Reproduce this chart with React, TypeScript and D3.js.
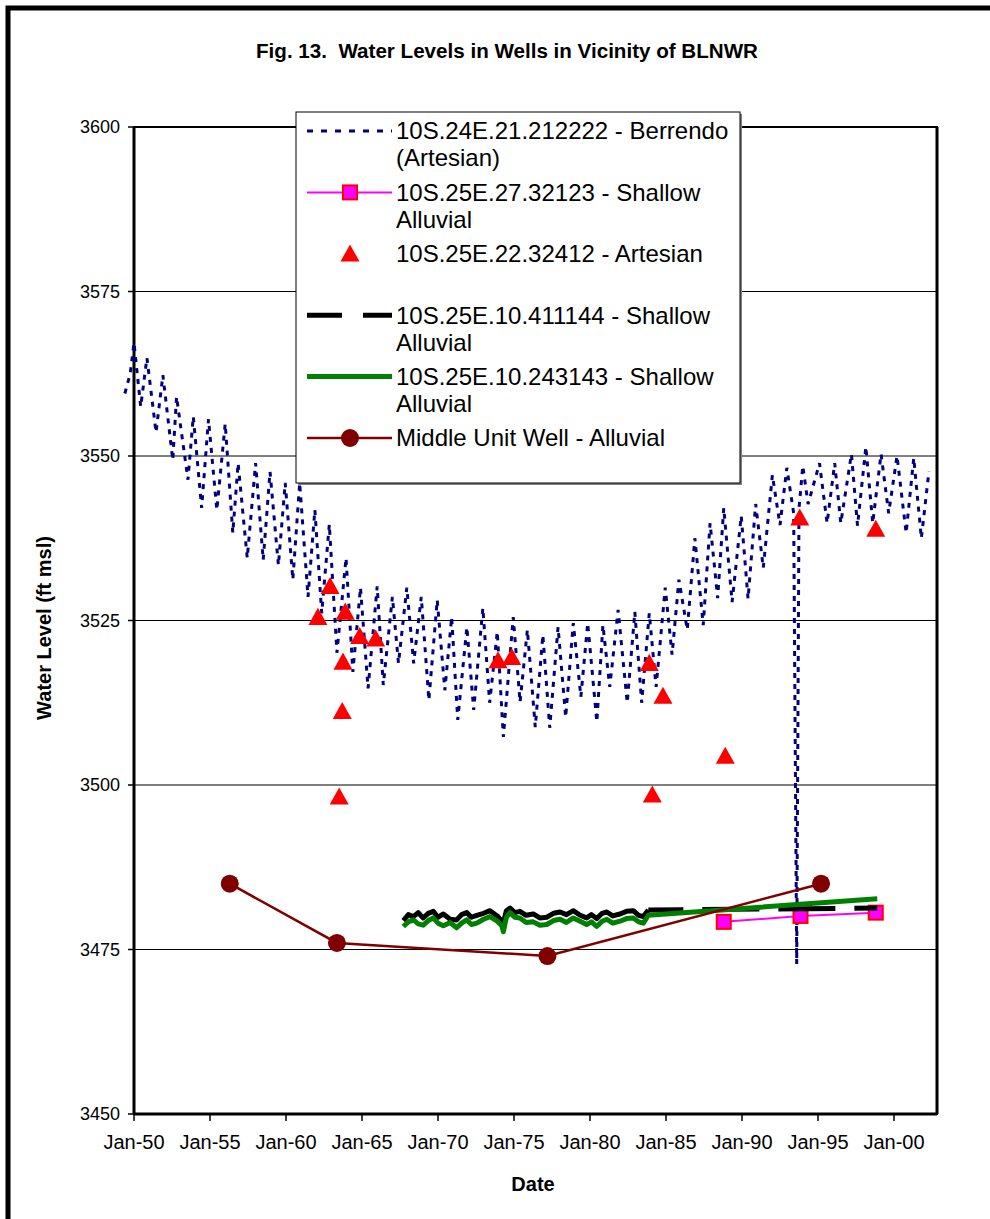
import React from 'react';
import * as d3 from 'd3';

// [decimal year, water level ft msl]
const berrendo: [number, number][] = [
  [1949.4, 3559.5], [1949.75, 3562.5], [1950.0, 3567.2], [1950.44, 3557.5], [1950.85, 3564.9],
  [1951.45, 3553.6], [1951.9, 3562.3], [1952.55, 3549.4], [1952.8, 3559], [1953.55, 3546.4],
  [1953.9, 3556], [1954.45, 3542.1], [1954.9, 3555.6], [1955.45, 3541.8], [1956.0, 3554.9],
  [1956.5, 3538.3], [1956.85, 3548.9], [1957.45, 3534.5], [1958.0, 3548.9], [1958.5, 3534.2],
  [1958.95, 3547.6], [1959.5, 3533.4], [1959.95, 3545.9], [1960.45, 3531.2], [1960.9, 3545.9],
  [1961.45, 3528.6], [1961.9, 3541.8], [1962.35, 3526.1], [1962.85, 3539.6], [1963.35, 3520.1],
  [1963.95, 3534.5], [1964.4, 3517.2], [1964.9, 3530], [1965.4, 3514.7], [1966.0, 3530.2],
  [1966.4, 3515.2], [1967.0, 3528.6], [1967.4, 3518.5], [1967.95, 3530], [1968.4, 3518.5],
  [1968.9, 3528.6], [1969.4, 3512.9], [1969.95, 3528.1], [1970.45, 3514.4], [1970.9, 3525.5],
  [1971.3, 3509.9], [1971.9, 3524], [1972.35, 3511.4], [1972.95, 3526.9], [1973.4, 3512.5],
  [1973.9, 3523.3], [1974.3, 3507.3], [1974.95, 3525.5], [1975.4, 3512.6], [1975.88, 3523.6],
  [1976.4, 3508.8], [1976.9, 3522.8], [1977.35, 3508.7], [1977.9, 3524], [1978.4, 3510.3],
  [1978.9, 3524.6], [1979.4, 3513.4], [1979.85, 3524.6], [1980.45, 3509.6], [1980.85, 3524.3],
  [1981.3, 3514.9], [1981.85, 3526.6], [1982.45, 3512.5], [1982.95, 3526.3], [1983.4, 3512.5],
  [1983.9, 3526.1], [1984.35, 3514.9], [1984.95, 3530], [1985.4, 3519.8], [1985.85, 3531.2],
  [1986.4, 3523.6], [1986.9, 3537.5], [1987.45, 3524.3], [1987.9, 3539.8], [1988.4, 3528.4],
  [1988.8, 3542.1], [1989.35, 3527.8], [1989.95, 3540.9], [1990.4, 3528.3], [1990.9, 3542.7],
  [1991.4, 3533], [1992.0, 3547.1], [1992.5, 3539.5], [1992.95, 3548.2], [1993.4, 3541.3],
  [1993.6, 3472.8], [1993.75, 3542], [1994.0, 3548.5], [1994.35, 3542.7], [1995.1, 3548.9],
  [1995.6, 3539.8], [1996.1, 3548.9], [1996.5, 3539.8], [1997.2, 3550.3], [1997.6, 3539.4],
  [1998.15, 3551.4], [1998.6, 3539.8], [1999.15, 3550.3], [1999.65, 3541.3], [2000.2, 3550],
  [2000.8, 3538.3], [2001.3, 3549.7], [2001.8, 3537.5], [2002.3, 3547.7],
];

const shallow27: [number, number][] = [
  [1988.8, 3479.2], [1993.85, 3480.1], [1998.8, 3480.6],
];

const artesian22: [number, number][] = [
  [1962.1, 3525.5], [1962.9, 3530.2], [1963.75, 3518.7], [1963.7, 3511.2], [1963.5, 3498.2],
  [1963.9, 3526.3], [1964.85, 3522.6], [1965.9, 3522.2], [1973.95, 3518.9], [1974.85, 3519.4],
  [1983.9, 3518.5], [1984.8, 3513.5], [1984.1, 3498.5], [1988.9, 3504.4], [1993.8, 3540.6],
  [1998.8, 3538.9],
];

const shallow411144: [number, number][] = [
  [1967.72, 3479.4], [1968.05, 3480.3], [1968.38, 3480.0], [1968.7, 3480.6], [1969.03, 3479.8],
  [1969.36, 3480.5], [1969.69, 3480.8], [1970.0, 3479.9], [1970.35, 3480.4], [1970.8, 3479.6],
  [1971.23, 3479.5], [1971.55, 3480.3], [1971.89, 3480.6], [1972.2, 3479.9], [1972.55, 3480.2],
  [1973.0, 3480.5], [1973.42, 3480.9], [1973.9, 3480.1], [1974.3, 3479.0], [1974.5, 3480.9],
  [1974.74, 3481.3], [1975.05, 3480.6], [1975.39, 3480.8], [1975.8, 3480.2], [1976.27, 3480.4],
  [1976.7, 3479.8], [1977.15, 3479.9], [1977.6, 3480.5], [1978.03, 3480.7], [1978.45, 3480.3],
  [1978.9, 3480.9], [1979.35, 3480.2], [1979.78, 3479.8], [1980.1, 3480.3], [1980.44, 3479.7],
  [1980.8, 3480.5], [1981.1, 3480.7], [1981.5, 3480.1], [1981.97, 3480.4], [1982.4, 3480.8],
  [1982.85, 3480.9], [1983.2, 3480.2], [1983.51, 3480.0], [1983.84, 3481.0],
];
const shallow411144Tail: [number, number][] = [
  [1983.84, 3481.0], [1998.9, 3481.3],
];

const shallow243143: [number, number][] = [
  [1967.72, 3478.5], [1968.05, 3479.2], [1968.38, 3479.5], [1968.7, 3478.9], [1969.03, 3478.7],
  [1969.36, 3479.4], [1969.69, 3479.8], [1970.0, 3479.0], [1970.35, 3478.6], [1970.8, 3479.1],
  [1971.23, 3478.3], [1971.55, 3479.0], [1971.89, 3479.5], [1972.2, 3478.8], [1972.55, 3479.0],
  [1973.0, 3479.6], [1973.42, 3480.0], [1973.9, 3479.3], [1974.2, 3478.6], [1974.3, 3477.7],
  [1974.5, 3479.9], [1974.74, 3480.6], [1975.05, 3479.9], [1975.39, 3479.8], [1975.8, 3479.1],
  [1976.27, 3479.2], [1976.7, 3478.7], [1977.15, 3478.8], [1977.6, 3479.4], [1978.03, 3479.6],
  [1978.45, 3479.1], [1978.9, 3479.8], [1979.35, 3479.3], [1979.78, 3478.8], [1980.1, 3479.2],
  [1980.44, 3478.5], [1980.8, 3479.3], [1981.1, 3479.6], [1981.5, 3479.0], [1981.97, 3479.3],
  [1982.4, 3479.7], [1982.85, 3479.8], [1983.2, 3479.2], [1983.51, 3479.0], [1983.84, 3480.2],
  [1998.9, 3482.7],
];

const middleUnit: [number, number][] = [
  [1956.3, 3485.0], [1963.35, 3476.0], [1977.2, 3474.0], [1995.2, 3485.0],
];

const yTicks = [3450, 3475, 3500, 3525, 3550, 3575, 3600];
const xTickYears = [1950, 1955, 1960, 1965, 1970, 1975, 1980, 1985, 1990, 1995, 2000];

const legendItems = [
  { key: 'berrendo', lines: ['10S.24E.21.212222 - Berrendo', '(Artesian)'] },
  { key: 'shallow27', lines: ['10S.25E.27.32123 - Shallow', 'Alluvial'] },
  { key: 'artesian22', lines: ['10S.25E.22.32412 - Artesian'] },
  { key: 'shallow411144', lines: ['10S.25E.10.411144 - Shallow', 'Alluvial'] },
  { key: 'shallow243143', lines: ['10S.25E.10.243143 - Shallow', 'Alluvial'] },
  { key: 'middle', lines: ['Middle Unit Well - Alluvial'] },
];

const FONT = '"Liberation Sans", Arial, sans-serif';
const W = 990;
const H = 1219;
const plot = { left: 134, right: 937, top: 127, bottom: 1114 };

const triPath = (size: number) => {
  const h = size * 0.9;
  return `M0,${-h * 0.55}L${size / 2},${h * 0.45}L${-size / 2},${h * 0.45}Z`;
};

export default function App() {
  const x = d3.scaleLinear().domain([1950, 2002.83]).range([plot.left, plot.right]);
  const y = d3.scaleLinear().domain([3450, 3600]).range([plot.bottom, plot.top]);
  const line = d3.line<[number, number]>().x(d => x(d[0])).y(d => y(d[1]));

  const lx0 = 307;
  const lx1 = 392;
  const lmid = 350;
  const legendTop = 131;
  const entryGap = 61.4;
  const lineGap = 27;

  const legendSample = (key: string, cy: number) => {
    switch (key) {
      case 'berrendo':
        return <line x1={lx0} x2={lx1} y1={cy} y2={cy} stroke="#000080" strokeWidth={3} strokeDasharray="6,8" />;
      case 'shallow27':
        return (
          <g>
            <line x1={lx0} x2={lx1} y1={cy} y2={cy} stroke="#FF00FF" strokeWidth={2} />
            <rect x={lmid - 7} y={cy - 7} width={14} height={14} fill="#FF00FF" stroke="#FF0000" strokeWidth={2} />
          </g>
        );
      case 'artesian22':
        return <path d={triPath(19)} transform={`translate(${lmid},${cy})`} fill="#FF0000" />;
      case 'shallow411144':
        return <line x1={lx0} x2={lx1} y1={cy} y2={cy} stroke="#000" strokeWidth={5} strokeDasharray="35,21" />;
      case 'shallow243143':
        return <line x1={lx0} x2={lx1} y1={cy} y2={cy} stroke="#008000" strokeWidth={5} />;
      default:
        return (
          <g>
            <line x1={lx0} x2={lx1} y1={cy} y2={cy} stroke="#800000" strokeWidth={2.5} />
            <circle cx={lmid} cy={cy} r={9} fill="#800000" />
          </g>
        );
    }
  };

  return (
    <div style={{ position: 'absolute', left: 0, top: 0 }}>
      <svg width={W} height={H} style={{ display: 'block', background: '#fff' }} fontFamily={FONT}>
        {/* outer chart frame */}
        <rect x={8} y={8} width={W + 20} height={H + 20} fill="none" stroke="#000" strokeWidth={5} />

        <text x={507} y={58} textAnchor="middle" fontSize={20.6} fontWeight="bold">
          Fig. 13.{'\u00a0\u00a0'}Water Levels in Wells in Vicinity of BLNWR
        </text>

        {/* gridlines */}
        {yTicks.filter(t => t > 3450 && t < 3600).map(t => (
          <line key={t} x1={plot.left} x2={plot.right} y1={y(t)} y2={y(t)} stroke="#000" strokeWidth={1} />
        ))}

        {/* plot frame */}
        <rect x={plot.left} y={plot.top} width={plot.right - plot.left} height={plot.bottom - plot.top}
          fill="none" stroke="#000" strokeWidth={2} />
        <line x1={plot.right} x2={plot.right} y1={plot.top} y2={plot.bottom} stroke="#000" strokeWidth={3} />
        <line x1={plot.left} x2={plot.left} y1={plot.top} y2={plot.bottom} stroke="#000" strokeWidth={3} />
        <line x1={plot.left} x2={plot.right} y1={plot.bottom} y2={plot.bottom} stroke="#000" strokeWidth={3} />

        {/* y axis */}
        {yTicks.map(t => (
          <g key={t}>
            <line x1={plot.left - 6} x2={plot.left} y1={y(t)} y2={y(t)} stroke="#000" strokeWidth={1.5} />
            <text x={120} y={y(t)} dy="0.35em" textAnchor="end" fontSize={18}>{t}</text>
          </g>
        ))}
        <text transform={`translate(51,628) rotate(-90)`} textAnchor="middle"
          fontSize={20} fontWeight="bold">Water Level (ft msl)</text>

        {/* x axis */}
        {xTickYears.map(yr => (
          <g key={yr}>
            <line x1={x(yr)} x2={x(yr)} y1={plot.bottom} y2={plot.bottom + 7} stroke="#000" strokeWidth={1.5} />
            <text x={x(yr)} y={1149} textAnchor="middle" fontSize={20}>
              {`Jan-${String(yr % 100).padStart(2, '0')}`}
            </text>
          </g>
        ))}
        <text x={533} y={1191} textAnchor="middle" fontSize={20} fontWeight="bold">Date</text>

        {/* Berrendo dotted */}
        <path d={line(berrendo) ?? ''} fill="none" stroke="#000080" strokeWidth={3} strokeDasharray="5,6" />

        {/* shallow 27 */}
        <path d={line(shallow27) ?? ''} fill="none" stroke="#FF00FF" strokeWidth={2} />
        {shallow27.map((d, i) => (
          <rect key={i} x={x(d[0]) - 7} y={y(d[1]) - 7} width={14} height={14} fill="#FF00FF" stroke="#FF0000" strokeWidth={2} />
        ))}

        {/* artesian 22 triangles */}
        {artesian22.map((d, i) => (
          <path key={i} d={triPath(19)} transform={`translate(${x(d[0])},${y(d[1])})`} fill="#FF0000" />
        ))}

        {/* 10.411144 black */}
        <path d={line(shallow411144) ?? ''} fill="none" stroke="#000" strokeWidth={5} strokeLinejoin="round" />
        <path d={line(shallow411144Tail) ?? ''} fill="none" stroke="#000" strokeWidth={5} strokeDasharray="57,19" strokeDashoffset={22} />

        {/* 10.243143 green */}
        <path d={line(shallow243143) ?? ''} fill="none" stroke="#008000" strokeWidth={5} strokeLinejoin="round" />

        {/* middle unit */}
        <path d={line(middleUnit) ?? ''} fill="none" stroke="#800000" strokeWidth={2.5} />
        {middleUnit.map((d, i) => (
          <circle key={i} cx={x(d[0])} cy={y(d[1])} r={9} fill="#800000" />
        ))}

        {/* legend */}
        <rect x={298} y={114} width={444} height={371} fill="#808080" />
        <rect x={296} y={112} width={444} height={371} fill="#fff" stroke="#000" strokeWidth={1} />
        {legendItems.map((item, i) => {
          const cy = legendTop + i * entryGap;
          return (
            <g key={item.key}>
              {legendSample(item.key, cy)}
              {item.lines.map((t, j) => (
                <text key={j} x={396} y={cy + j * lineGap} dy="0.35em" fontSize={24}>{t}</text>
              ))}
            </g>
          );
        })}
      </svg>
    </div>
  );
}
